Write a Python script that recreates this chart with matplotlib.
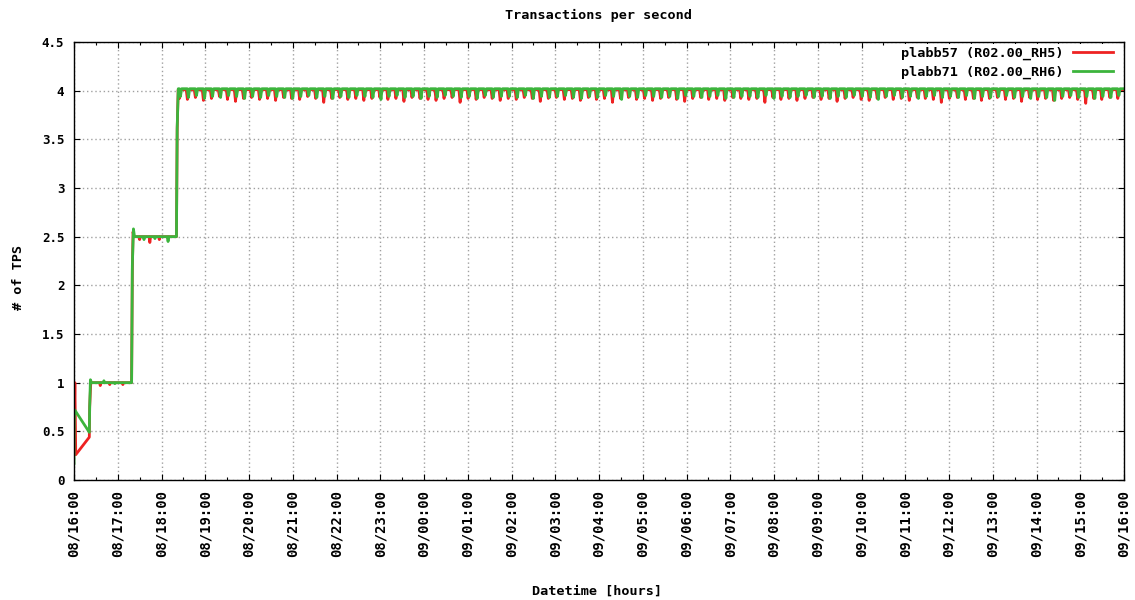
import datetime as dt
import matplotlib
matplotlib.use("Agg")
import matplotlib.pyplot as plt
import matplotlib.dates as mdates

# ---------------- data (minutes after 08/16:00) ----------------
start = dt.datetime(2012, 1, 8, 16, 0)
end_min = 1440

series_names = ["plabb57 (R02.00_RH5)", "plabb71 (R02.00_RH6)"]
series_colors = ["#ee2222", "#3cb43c"]

# ramp-up phase breakpoints
red_ramp_t = [0.3, 1.2, 2.4, 21, 21.5, 23, 35, 36, 37, 48, 49, 50, 66, 67, 68, 79,
              80, 81, 82, 89, 90, 91, 103, 104, 105, 116, 117, 118, 128, 129, 130, 140.5, 141.5, 143]
red_ramp_v = [0.60, 1.00, 0.26, 0.44, 0.75, 1.00, 1.00, 0.97, 1.00, 1.00, 0.98, 1.00, 1.00, 0.98, 1.00, 1.00,
              2.15, 2.55, 2.50, 2.50, 2.47, 2.50, 2.50, 2.44, 2.50, 2.50, 2.47, 2.50, 2.50, 2.48, 2.50, 2.50, 3.60, 4.00]
green_ramp_t = [0, 0.3, 1.0, 21, 21.5, 22.5, 24, 40, 41, 42, 55, 56, 57, 79,
                80, 81.5, 83, 95, 96, 97, 110, 111, 112, 128, 129, 130, 140.5, 141.5, 143]
green_ramp_v = [0.17, 0.60, 0.72, 0.49, 0.75, 1.03, 1.00, 1.00, 1.02, 1.00, 1.00, 0.99, 1.00, 1.00,
                2.20, 2.58, 2.50, 2.50, 2.47, 2.50, 2.50, 2.48, 2.50, 2.50, 2.45, 2.50, 2.50, 3.62, 4.02]

# steady plateau: level and dips (hundredths below the level), one dip per sampling slot
plateau_start = 146
dip_period = 11
dip_halfwidth = 1.6
red_level = 4.01
green_level = 4.02
red_offset = -1.5
green_offset = 0
red_dips = [9,10,8,11,9,7,10,12,9,8,10,9,11,8,9,10,7,9,13,9,8,10,9,11,9,8,10,9,12,8,
            9,10,11,9,8,13,9,10,8,9,11,9,10,8,9,12,9,8,10,9,11,8,10,9,13,9,8,10,9,11,
            9,8,10,12,9,8,10,9,11,8,9,10,9,13,8,10,9,11,9,8,10,9,12,9,8,10,11,9,8,10,
            9,11,8,9,10,13,9,8,10,9,11,9,8,10,9,12,8,10,9,11,9,8,10,14,9,10,8,9]
green_dips = [8,9,7,10,8,9,7,8,10,8,9,7,8,9,10,8,7,9,8,10,8,9,7,8,9,11,8,7,9,8,
              10,8,9,7,8,9,8,10,7,9,8,8,9,7,10,8,9,8,7,9,10,8,9,7,8,11,8,9,7,8,
              9,8,10,7,8,9,8,7,10,9,8,8,9,7,10,8,9,8,7,9,8,10,8,9,7,8,9,11,8,7,
              9,8,10,8,7,9,8,9,7,10,8,9,8,7,9,8,10,8,9,12,8,7,9,8,10,8,9,7]

y_ticks = [0, 0.5, 1, 1.5, 2, 2.5, 3, 3.5, 4, 4.5]
title = "Transactions per second"
x_label = "Datetime [hours]"
y_label = "# of TPS"


def build(ramp_t, ramp_v, level, dips, offset):
    t = list(ramp_t)
    v = list(ramp_v)
    for k, d in enumerate(dips):
        tk = plateau_start + k * dip_period + offset
        if tk + dip_halfwidth >= end_min:
            break
        t += [tk - dip_halfwidth, tk, tk + dip_halfwidth]
        v += [level, level - d / 100.0, level]
    t.append(end_min)
    v.append(level)
    times = [start + dt.timedelta(minutes=float(m)) for m in t]
    return times, v


red_t, red_v = build(red_ramp_t, red_ramp_v, red_level, red_dips, red_offset)
green_t, green_v = build(green_ramp_t, green_ramp_v, green_level, green_dips, green_offset)

# ---------------- plot ----------------
font = "DejaVu Sans Mono"
plt.rcParams["font.family"] = [font, "DejaVu Sans"]
plt.rcParams["font.weight"] = "bold"

fig = plt.figure(figsize=(11.35, 6.0), dpi=100)
ax = fig.add_axes([74 / 1135, 1 - 480 / 600, 1050 / 1135, 438 / 600])

ax.plot(red_t, red_v, color=series_colors[0], lw=2.0, label=series_names[0])
ax.plot(green_t, green_v, color=series_colors[1], lw=2.0, label=series_names[1])

ax.set_xlim(start, start + dt.timedelta(minutes=end_min))
ax.set_ylim(0, 4.5)
ax.set_yticks(y_ticks)
ax.set_yticklabels([("%g" % v) for v in y_ticks])

ax.xaxis.set_major_locator(mdates.HourLocator(interval=1))
ax.xaxis.set_minor_locator(mdates.MinuteLocator(byminute=[30]))
ax.xaxis.set_major_formatter(mdates.DateFormatter("%d/%H:%M"))

ax.tick_params(axis="both", which="major", direction="in", length=4, width=0.8,
               top=True, right=True, pad=7)
ax.tick_params(axis="y", which="major", labelsize=9)
ax.tick_params(axis="x", which="major", labelsize=10, labelrotation=90)
ax.tick_params(axis="x", which="minor", direction="in", length=2, width=0.8, top=True)
for lab in ax.get_xticklabels() + ax.get_yticklabels():
    lab.set_fontweight("bold")
ax.grid(True, which="major", color="#a0a0a0", linestyle=(0, (1, 2)), linewidth=1)
for s in ax.spines.values():
    s.set_linewidth(1.0)
    s.set_color("black")

fig.text(598 / 1135, 1 - 15 / 600, title, fontsize=9.7, fontweight="bold",
         ha="center", va="center")
fig.text(597 / 1135, 1 - 591 / 600, x_label, fontsize=9.7, fontweight="bold",
         ha="center", va="center")
fig.text(18 / 1135, 1 - 278 / 600, y_label, fontsize=9.7, fontweight="bold",
         ha="center", va="center", rotation=90)

leg = ax.legend(loc="upper right", bbox_to_anchor=((1116 - 74) / 1050, 0.996), frameon=True,
                facecolor="white", edgecolor="none", framealpha=1.0, fancybox=False,
                markerfirst=False, fontsize=9.7, handlelength=3.0, handletextpad=0.7,
                borderaxespad=0.0, borderpad=0.2, labelspacing=0.45)

fig.savefig("out.png", dpi=100)
